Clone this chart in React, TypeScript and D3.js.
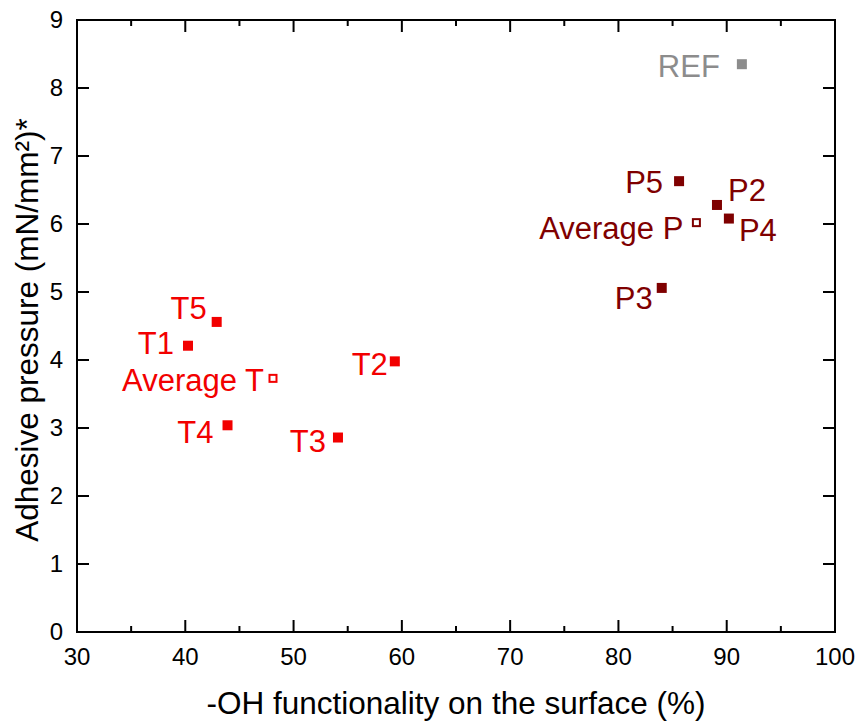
import * as d3 from "d3";

// samples
const labels = ["T1", "T2", "T3", "T4", "T5", "Average T", "P2", "P3", "P4", "P5", "Average P", "REF"];
const ohValues = [40.25, 59.35, 54.1, 43.9, 42.9, 48.1, 89.1, 84.0, 90.2, 85.6, 87.2, 91.4];
const pressureValues = [4.21, 3.98, 2.86, 3.04, 4.56, 3.73, 6.28, 5.06, 6.08, 6.63, 6.02, 8.35];
const groups = ["T", "T", "T", "T", "T", "T", "P", "P", "P", "P", "P", "REF"];
const isAverage = [false, false, false, false, false, true, false, false, false, false, true, false];

const xTicks = [30, 40, 50, 60, 70, 80, 90, 100];
const xMinorTicks = [35, 45, 55, 65, 75, 85, 95];
const yTicks = [0, 1, 2, 3, 4, 5, 6, 7, 8, 9];

const colors: Record<string, string> = { T: "#f20000", P: "#7f0000", REF: "#8c8c8c" };

// label placement: [dx, dy, anchor] relative to marker
const labelPos: [number, number, string][] = [
  [-14, 8, "end"], [-7, 14, "end"], [-12, 14, "end"], [-14, 18, "end"], [-10, -3, "end"], [-9, 13, "end"],
  [11, -4, "start"], [-9, 21, "end"], [10, 22, "start"], [-16, 12, "end"], [-13, 16, "end"], [-22, 13, "end"],
];

const W = 858, H = 722;
const m = { left: 77, right: 835, top: 20, bottom: 632 };

export default function App() {
  const x = d3.scaleLinear().domain([30, 100]).range([m.left, m.right]);
  const y = d3.scaleLinear().domain([0, 9]).range([m.bottom, m.top]);
  const font = "Arial, 'Liberation Sans', sans-serif";
  const major = 12, minor = 6;

  return (
    <svg width={W} height={H} style={{ position: "absolute", left: 0, top: 0, background: "#fff" }} fontFamily={font}>
      <rect x={m.left} y={m.top} width={m.right - m.left} height={m.bottom - m.top} fill="none" stroke="#000" strokeWidth={2} />
      {xTicks.map(t => (
        <g key={"x" + t}>
          <line x1={x(t)} x2={x(t)} y1={m.bottom} y2={m.bottom - major} stroke="#000" strokeWidth={2} />
          <line x1={x(t)} x2={x(t)} y1={m.top} y2={m.top + major} stroke="#000" strokeWidth={2} />
          <text x={x(t)} y={665} fontSize={24} textAnchor="middle">{t}</text>
        </g>
      ))}
      {xMinorTicks.map(t => (
        <g key={"xm" + t}>
          <line x1={x(t)} x2={x(t)} y1={m.bottom} y2={m.bottom - minor} stroke="#000" strokeWidth={2} />
          <line x1={x(t)} x2={x(t)} y1={m.top} y2={m.top + minor} stroke="#000" strokeWidth={2} />
        </g>
      ))}
      {yTicks.map(t => (
        <g key={"y" + t}>
          <line x1={m.left} x2={m.left + major} y1={y(t)} y2={y(t)} stroke="#000" strokeWidth={2} />
          <line x1={m.right} x2={m.right - major} y1={y(t)} y2={y(t)} stroke="#000" strokeWidth={2} />
          <text x={63} y={y(t) + 8} fontSize={24} textAnchor="end">{t}</text>
        </g>
      ))}
      <text x={(m.left + m.right) / 2} y={714} fontSize={31.5} textAnchor="middle">-OH functionality on the surface (%)</text>
      <text transform={`translate(38,${(m.top + m.bottom) / 2 + 4}) rotate(-90)`} fontSize={31.5} textAnchor="middle">
        Adhesive pressure (mN/mm²)*
      </text>
      {labels.map((lab, i) => {
        const cx = x(ohValues[i]), cy = y(pressureValues[i]);
        const c = colors[groups[i]];
        const [dx, dy, anchor] = labelPos[i];
        return (
          <g key={lab}>
            {isAverage[i] ? (
              <rect x={cx - 3.5} y={cy - 3.5} width={7} height={7} fill="#fff" stroke={c} strokeWidth={2} />
            ) : (
              <rect x={cx - 5} y={cy - 5} width={10} height={10} fill={c} />
            )}
            <text x={cx + dx} y={cy + dy} fill={c} fontSize={31} textAnchor={anchor}>{lab}</text>
          </g>
        );
      })}
    </svg>
  );
}
